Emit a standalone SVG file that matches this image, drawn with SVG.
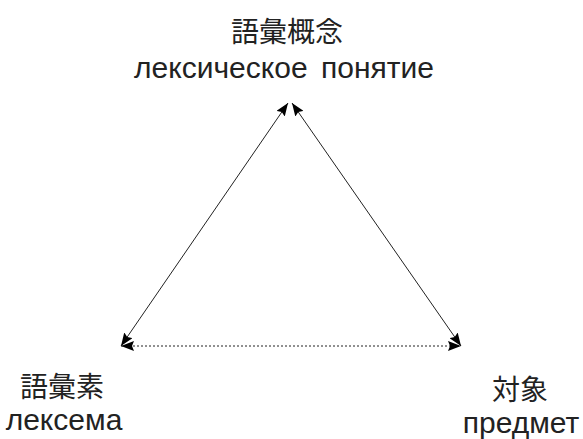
<svg xmlns="http://www.w3.org/2000/svg" width="583" height="439" viewBox="0 0 583 439">
<style>
text{font-family:"Liberation Sans","Noto Sans CJK JP",sans-serif;font-size:30px;fill:#222;text-anchor:middle}
text.cjk{font-family:"Noto Sans CJK JP",sans-serif;font-size:28px;fill:#222}
.ln{stroke:#222;stroke-width:1;fill:none}
.dot{stroke-dasharray:2,2}
</style>
<defs>
<marker id="ah" viewBox="0 0 13 10" refX="13" refY="5" markerWidth="13" markerHeight="10" markerUnits="userSpaceOnUse" orient="auto-start-reverse">
<path d="M0,0 L13,5 L0,10 L2,5 Z" fill="#000"/>
</marker>
</defs>
<g id="top"><text class="cjk" x="287" y="42">語彙概念</text><text x="284" y="78" word-spacing="5">лексическое понятие</text></g>
<g id="left"><text class="cjk" x="62" y="397">語彙素</text><text x="64" y="430">лексема</text></g>
<g id="right"><text class="cjk" x="520" y="400">対象</text><text x="521" y="433">предмет</text></g>
<g id="connectors">
<line class="ln" x1="288" y1="103" x2="121" y2="346" marker-start="url(#ah)" marker-end="url(#ah)"/>
<line class="ln" x1="292" y1="103" x2="461" y2="346" marker-start="url(#ah)" marker-end="url(#ah)"/>
<line class="ln dot" x1="121" y1="346" x2="461" y2="346" marker-start="url(#ah)" marker-end="url(#ah)"/>
</g>
</svg>
